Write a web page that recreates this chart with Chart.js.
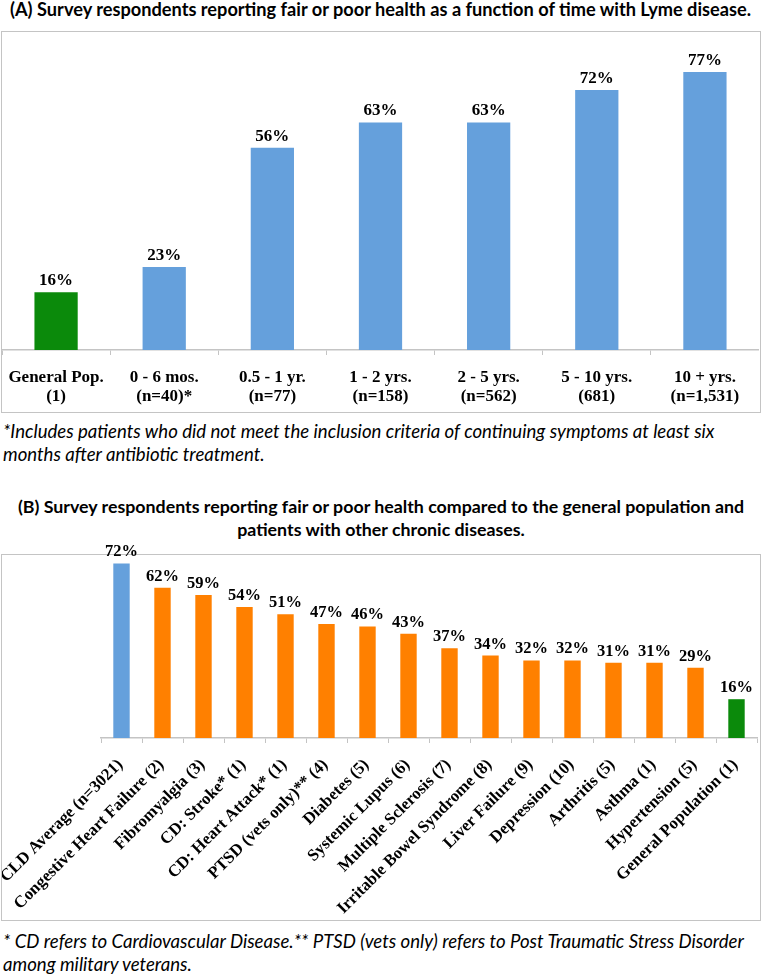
<!DOCTYPE html>
<html>
<head>
<meta charset="utf-8">
<script src="https://cdn.jsdelivr.net/npm/chart.js@4.4.0/dist/chart.umd.min.js"></script>
<style>
    body { margin: 0; background: #fff; width: 762px; height: 976px; position: relative; overflow: hidden; }
    .title { position: absolute; font-family: Lato, sans-serif; font-weight: bold; font-size: 18px; color: #000; white-space: nowrap; }
    .note { position: absolute; left: 3px; font-family: Lato, sans-serif; font-style: italic; font-size: 18.6px; line-height: 23px; color: #000; white-space: nowrap; }
    .box { position: absolute; border: 1.5px solid #c4c4c4; box-sizing: border-box; }
    canvas { position: absolute; }
</style>
</head>
<body>
<div class="title" style="left:10px; top:-2px; font-size:18.2px;">(A) Survey respondents reporting fair or poor health as a function of time with Lyme disease.</div>
<div class="box" style="left:1px; top:31px; width:760px; height:382px;"></div>
<div style="position:absolute; left:2px; top:32px; width:757px; height:379px;"><canvas id="chartA"></canvas></div>
<div class="note" style="top:420px;">*Includes patients who did not meet the inclusion criteria of continuing symptoms at least six<br>months after antibiotic treatment.</div>

<div class="title" style="left:0; width:762px; text-align:center; top:495px; line-height:23px; font-size:17.8px;">(B) Survey respondents reporting fair or poor health compared to the general population and<br>patients with other chronic diseases.</div>
<div class="box" style="left:1px; top:554px; width:760px; height:367px;"></div>
<div style="position:absolute; left:2px; top:541px; width:757px; height:378px;"><canvas id="chartB"></canvas></div>
<div class="note" style="top:930px;">* CD refers to Cardiovascular Disease.** PTSD (vets only) refers to Post Traumatic Stress Disorder<br>among military veterans.</div>

<script>
const durationLabels = [
    ["General Pop.", "(1)"],
    ["0 - 6 mos.", "(n=40)*"],
    ["0.5 - 1 yr.", "(n=77)"],
    ["1 - 2 yrs.", "(n=158)"],
    ["2 - 5 yrs.", "(n=562)"],
    ["5 - 10 yrs.", "(681)"],
    ["10 + yrs.", "(n=1,531)"]
];
const durationValues = [16, 23, 56, 63, 63, 72, 77];

const diseaseLabels = [
    "CLD Average (n=3021)",
    "Congestive Heart Failure (2)",
    "Fibromyalgia (3)",
    "CD: Stroke* (1)",
    "CD: Heart Attack* (1)",
    "PTSD (vets only)** (4)",
    "Diabetes (5)",
    "Systemic Lupus (6)",
    "Multiple Sclerosis (7)",
    "Irritable Bowel Syndrome (8)",
    "Liver Failure (9)",
    "Depression (10)",
    "Arthritis (5)",
    "Asthma (1)",
    "Hypertension (5)",
    "General Population (1)"
];
const diseaseValues = [72, 62, 59, 54, 51, 47, 46, 43, 37, 34, 32, 32, 31, 31, 29, 16];

const BLUE = '#65a0dc';
const ORANGE = '#ff8000';
const GREEN = '#0b8a0b';
const AXIS = '#c4c4c4';
const serif = '"Liberation Serif", "Times New Roman", serif';

// draws the "NN%" labels over each bar
function valueLabels(size) {
    return {
        id: 'valueLabels',
        afterDatasetsDraw(chart) {
            const ctx = chart.ctx;
            const meta = chart.getDatasetMeta(0);
            const data = chart.data.datasets[0].data;
            ctx.save();
            ctx.font = 'bold ' + size + 'px ' + serif;
            ctx.fillStyle = '#000';
            ctx.textAlign = 'center';
            ctx.textBaseline = 'bottom';
            meta.data.forEach(function(bar, i) {
                ctx.fillText(data[i] + '%', bar.x, bar.y - 3);
            });
            ctx.restore();
        }
    };
}

const chartA = new Chart(document.getElementById('chartA'), {
    type: 'bar',
    data: {
        labels: durationLabels,
        datasets: [{
            data: durationValues,
            backgroundColor: durationValues.map(function(v, i) { return i === 0 ? GREEN : BLUE; }),
            categoryPercentage: 1,
            barPercentage: 0.4
        }]
    },
    options: {
        responsive: true,
        maintainAspectRatio: false,
        animation: false,
        layout: { padding: { top: 11, left: 0, right: 0, bottom: 0 } },
        plugins: { legend: { display: false }, tooltip: { enabled: false } },
        scales: {
            y: { display: false, min: 0, max: 85 },
            x: {
                afterFit: function(scale) {
                    scale.height = 61;
                    scale.paddingLeft = 0;
                    scale.paddingRight = 0;
                },
                grid: { drawOnChartArea: false, drawTicks: true, tickLength: 5, color: AXIS, offset: true },
                border: { display: true, color: AXIS, width: 1.5 },
                ticks: {
                    color: '#000',
                    font: { family: serif, size: 17, weight: 'bold', lineHeight: 1.12 },
                    padding: 13,
                    maxRotation: 0,
                    autoSkip: false
                }
            }
        }
    },
    plugins: [valueLabels(17)]
});

const chartB = new Chart(document.getElementById('chartB'), {
    type: 'bar',
    data: {
        labels: diseaseLabels,
        datasets: [{
            data: diseaseValues,
            backgroundColor: diseaseValues.map(function(v, i) {
                if (i === 0) return BLUE;
                if (i === diseaseValues.length - 1) return GREEN;
                return ORANGE;
            }),
            categoryPercentage: 1,
            barPercentage: 0.4
        }]
    },
    options: {
        responsive: true,
        maintainAspectRatio: false,
        animation: false,
        layout: { padding: { top: 3, left: 99, right: 2, bottom: 0 } },
        plugins: { legend: { display: false }, tooltip: { enabled: false } },
        scales: {
            y: { display: false, min: 0, max: 80 },
            x: {
                afterFit: function(scale) {
                    scale.height = 181;
                    scale.paddingLeft = 0;
                    scale.paddingRight = 0;
                },
                grid: { drawOnChartArea: false, drawTicks: true, tickLength: 5, color: AXIS, offset: true },
                border: { display: true, color: AXIS, width: 1.5 },
                ticks: {
                    color: '#000',
                    font: { family: serif, size: 16.8, weight: 'bold' },
                    padding: 12,
                    labelOffset: -1,
                    minRotation: 45,
                    maxRotation: 45,
                    autoSkip: false
                }
            }
        }
    },
    plugins: [valueLabels(16.5)]
});
</script>
</body>
</html>
